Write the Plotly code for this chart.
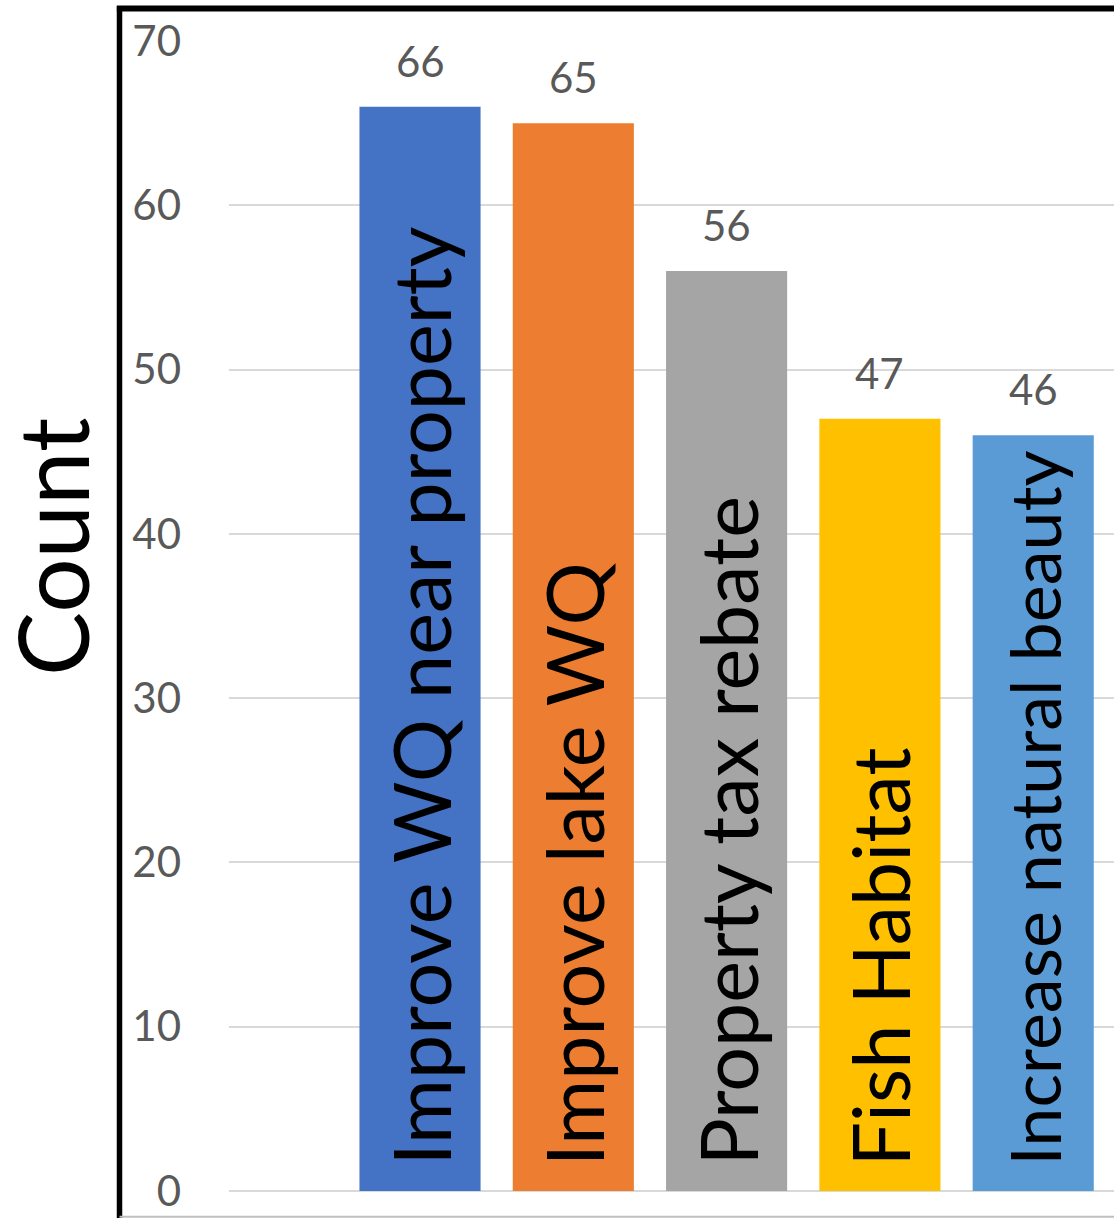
import plotly.graph_objects as go

categories = ["Improve WQ near property", "Improve lake WQ", "Property tax rebate",
              "Fish Habitat", "Increase natural beauty"]
counts = [66, 65, 56, 47, 46]
bar_colors = ["#4472C4", "#ED7D31", "#A5A5A5", "#FFC000", "#5B9BD5"]
label_sizes = [79, 79, 79, 79, 70]
y_ticks = [0, 10, 20, 30, 40, 50, 60, 70]

W, H = 1114, 1218
L, R, T, B = 229, 0, 41, 27
plot_w = W - L - R
plot_h = H - T - B

FONT = "Lato, Carlito, 'Open Sans', sans-serif"

fig = go.Figure()
fig.add_trace(go.Bar(
    x=categories, y=counts,
    marker=dict(color=bar_colors, line=dict(width=0)),
    hoverinfo="skip",
))

annotations = []
for cat, val, size in zip(categories, counts, label_sizes):
    # value label above bar
    annotations.append(dict(
        x=cat, y=val, xref="x", yref="y", text=str(val), showarrow=False,
        xanchor="center", yanchor="bottom", yshift=19,
        font=dict(family=FONT, size=42, color="#595959"),
    ))
    # category label inside bar, rotated
    annotations.append(dict(
        x=cat, y=0, xref="x", yref="y", text=cat, showarrow=False,
        textangle=-90, xanchor="center", yanchor="bottom", yshift=23,
        font=dict(family=FONT, size=size, color="#000000"),
    ))

# y-axis title
annotations.append(dict(
    x=(51 - L) / plot_w, y=(1191 - 547) / plot_h, xref="paper", yref="paper",
    text="Count", showarrow=False, textangle=-90,
    xanchor="center", yanchor="middle",
    font=dict(family=FONT, size=96, color="#000000"),
))

bx = (119.5 - L) / plot_w
by_top = (1191 - 8.5) / plot_h
by_bot = (1191 - 1216.8) / plot_h
shapes = [
    dict(type="line", xref="paper", yref="paper", x0=bx, x1=bx, y0=by_bot - 0.01, y1=by_top + 0.0022,
         line=dict(color="#000000", width=5.5)),
    dict(type="line", xref="paper", yref="paper", x0=bx - 0.003, x1=1.2, y0=by_top, y1=by_top,
         line=dict(color="#000000", width=6)),
    dict(type="line", xref="paper", yref="paper", x0=bx, x1=1.2, y0=by_bot, y1=by_bot,
         line=dict(color="#BFBFBF", width=2)),
]

fig.update_layout(
    width=W, height=H,
    margin=dict(l=L, r=R, t=T, b=B, pad=0),
    paper_bgcolor="white", plot_bgcolor="white",
    bargap=0.21,
    showlegend=False,
    annotations=annotations,
    shapes=shapes,
    xaxis=dict(
        type="category", range=[-1.246, 4.527],
        showticklabels=False, showgrid=False, zeroline=False, showline=False, ticks="",
    ),
    yaxis=dict(
        range=[0, 70], tickvals=y_ticks, ticktext=[str(v) for v in y_ticks],
        showgrid=True, gridcolor="#D9D9D9", gridwidth=2,
        zeroline=True, zerolinecolor="#D9D9D9", zerolinewidth=2,
        showline=False, ticks="",
        tickfont=dict(family=FONT, size=42, color="#595959"),
        ticklabelstandoff=47,
    ),
)

fig.write_html(
    "out.html",
    config={"displayModeBar": False},
    post_script="document.body.style.margin='0';document.body.style.overflow='hidden';",
)
